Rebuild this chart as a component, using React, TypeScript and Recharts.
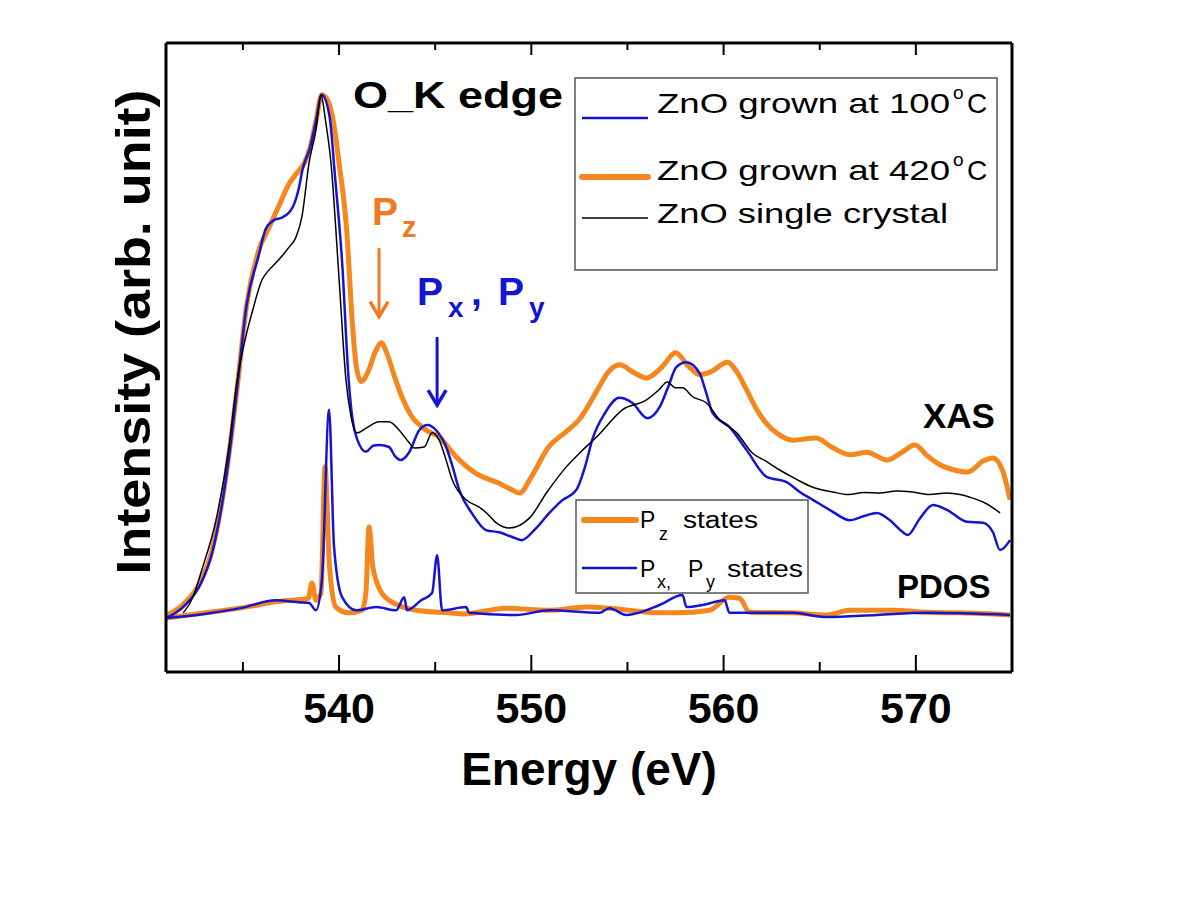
import React from "react";
import { LineChart, Line, XAxis, YAxis, ReferenceLine } from "recharts";

// energy (eV) and normalised intensity
const xasGrown420 = [
  [531.0, 0.005], [532.0, 0.03], [532.8, 0.07], [533.4, 0.13], [533.9, 0.22], [534.3, 0.32],
  [534.7, 0.44], [535.2, 0.6], [535.8, 0.7], [536.4, 0.75], [536.9, 0.79], [537.4, 0.83],
  [537.8, 0.85], [538.2, 0.87], [538.5, 0.9], [538.8, 0.95], [539.1, 1.0], [539.4, 0.99],
  [539.7, 0.95], [540.0, 0.87], [540.4, 0.74], [540.7, 0.56], [540.9, 0.48], [541.15, 0.452],
  [541.5, 0.47], [541.9, 0.51], [542.2, 0.526], [542.5, 0.505], [542.9, 0.46], [543.3, 0.42],
  [543.7, 0.39], [544.5, 0.36], [545.2, 0.346], [546.1, 0.308], [547.1, 0.277], [548.3, 0.258],
  [549.0, 0.245], [549.4, 0.239], [550.0, 0.27], [550.9, 0.327], [551.8, 0.356], [552.5, 0.38],
  [553.5, 0.44], [554.0, 0.47], [554.6, 0.484], [555.3, 0.47], [556.0, 0.459], [556.8, 0.48],
  [557.5, 0.507], [558.2, 0.48], [558.75, 0.465], [559.3, 0.47], [560.2, 0.489], [560.7, 0.47],
  [561.2, 0.436], [561.7, 0.4], [562.2, 0.373], [562.9, 0.35], [563.6, 0.34], [564.8, 0.344],
  [565.7, 0.325], [566.6, 0.312], [567.45, 0.317], [568.5, 0.302], [569.2, 0.315], [569.95, 0.331],
  [570.6, 0.31], [571.25, 0.293], [572.0, 0.283], [572.7, 0.279], [573.5, 0.3], [574.0, 0.306],
  [574.5, 0.283], [574.9, 0.226],
];

const xasGrown100 = [
  [531.0, 0.0], [532.0, 0.025], [532.8, 0.065], [533.4, 0.125], [533.9, 0.215], [534.3, 0.315],
  [534.7, 0.44], [535.2, 0.6], [535.8, 0.69], [536.2, 0.745], [536.6, 0.76], [537.0, 0.765],
  [537.4, 0.775], [537.6, 0.786], [537.9, 0.82], [538.1, 0.857], [538.5, 0.9], [538.8, 0.95],
  [539.1, 1.0], [539.5, 0.96], [539.8, 0.84], [540.16, 0.68], [540.5, 0.455], [540.7, 0.38],
  [540.94, 0.342], [541.4, 0.318], [541.8, 0.33], [542.1, 0.331], [542.6, 0.327], [542.9, 0.31],
  [543.2, 0.302], [543.65, 0.317], [544.17, 0.359], [544.6, 0.369], [545.05, 0.359], [545.57, 0.327],
  [545.9, 0.29], [546.25, 0.245], [546.9, 0.201], [547.66, 0.168], [548.33, 0.164], [549.0, 0.155],
  [549.5, 0.149], [550.2, 0.17], [550.94, 0.201], [551.6, 0.225], [552.34, 0.245], [552.8, 0.29],
  [553.18, 0.342], [553.8, 0.39], [554.58, 0.421], [555.26, 0.411], [556.04, 0.382], [556.67, 0.403],
  [557.1, 0.44], [557.55, 0.48], [558.07, 0.489], [558.75, 0.468], [559.1, 0.43], [559.43, 0.392],
  [560.31, 0.365], [561.2, 0.321], [562.24, 0.27], [563.28, 0.26], [564.0, 0.24], [564.64, 0.226],
  [565.6, 0.205], [566.56, 0.187], [567.3, 0.195], [567.97, 0.201], [568.65, 0.187], [569.2, 0.168],
  [569.58, 0.159], [570.2, 0.19], [570.89, 0.216], [571.61, 0.207], [572.66, 0.184], [573.49, 0.182],
  [574.01, 0.164], [574.38, 0.13], [574.9, 0.149],
];

const xasCrystal = [
  [531.9, 0.01], [532.4, 0.04], [532.86, 0.092], [533.6, 0.187], [534.27, 0.327], [534.7, 0.455],
  [535.1, 0.53], [535.47, 0.583], [535.99, 0.646], [536.35, 0.665], [536.72, 0.679], [537.1, 0.695],
  [537.4, 0.709], [537.76, 0.728], [538.07, 0.767], [538.44, 0.87], [538.8, 0.933], [539.06, 1.0],
  [539.3, 0.95], [539.58, 0.87], [540.0, 0.649], [540.36, 0.455], [540.6, 0.39], [540.94, 0.354],
  [541.41, 0.363], [542.08, 0.375], [542.6, 0.375], [543.13, 0.359], [543.65, 0.335], [543.91, 0.325],
  [544.43, 0.327], [544.84, 0.354], [545.21, 0.34], [545.5, 0.31], [545.89, 0.264], [546.61, 0.226],
  [547.29, 0.212], [547.7, 0.2], [548.18, 0.182], [548.85, 0.172], [549.9, 0.191], [550.8, 0.24],
  [551.82, 0.289], [552.5, 0.315], [553.5, 0.35], [554.74, 0.398], [555.99, 0.417], [556.6, 0.435],
  [557.08, 0.451], [557.5, 0.44], [557.86, 0.44], [558.39, 0.423], [559.11, 0.411], [559.79, 0.379],
  [560.68, 0.354], [561.51, 0.315], [562.2, 0.3], [562.92, 0.283], [563.8, 0.265], [564.64, 0.25],
  [565.68, 0.241], [566.5, 0.236], [567.3, 0.24], [568.13, 0.239], [569.0, 0.243], [569.84, 0.241],
  [570.7, 0.236], [571.61, 0.239], [572.3, 0.236], [572.81, 0.231], [573.6, 0.22], [574.38, 0.201],
];

const pdosPz = [
  [531.0, 0.0], [533.0, 0.01], [535.0, 0.02], [536.7, 0.031], [538.4, 0.038], [538.59, 0.067],
  [538.8, 0.034], [539.06, 0.048], [539.27, 0.289], [539.5, 0.1], [539.84, 0.021], [540.5, 0.01],
  [541.2, 0.015], [541.4, 0.05], [541.56, 0.174], [541.75, 0.1], [541.93, 0.072], [542.6, 0.034],
  [544.0, 0.015], [545.7, 0.01], [546.5, 0.008], [548.7, 0.019], [550.9, 0.015], [552.86, 0.021],
  [554.06, 0.019], [556.67, 0.01], [557.55, 0.01], [559.27, 0.015], [560.31, 0.04], [560.83, 0.038],
  [561.35, 0.011], [563.59, 0.01], [565.36, 0.006], [566.56, 0.015], [568.8, 0.015], [570.57, 0.011],
  [572.29, 0.01], [574.9, 0.006],
];

const pdosPxPy = [
  [531.0, 0.0], [533.0, 0.008], [535.0, 0.02], [536.7, 0.034], [538.0, 0.03], [538.44, 0.029],
  [538.8, 0.015], [539.11, 0.073], [539.48, 0.398], [539.74, 0.136], [540.16, 0.04], [540.89, 0.015],
  [541.93, 0.021], [542.97, 0.015], [543.39, 0.04], [543.54, 0.015], [544.27, 0.034], [544.84, 0.048],
  [545.1, 0.12], [545.36, 0.015], [546.61, 0.021], [546.77, 0.01], [549.22, 0.006], [550.94, 0.015],
  [553.54, 0.01], [554.06, 0.019], [554.95, 0.006], [556.67, 0.025], [557.86, 0.044], [558.07, 0.021],
  [558.91, 0.025], [560.05, 0.034], [560.31, 0.01], [561.88, 0.01], [563.59, 0.01], [565.36, 0.002],
  [567.97, 0.006], [570.57, 0.01], [574.9, 0.006],
];

const energyTicks = [535, 540, 545, 550, 555, 560, 565, 570];
const xDomain = [531, 575];
const yDomain = [-0.103, 1.099];

// arrows: energy, start intensity, end intensity
const arrowPz = [542.08, 0.707, 0.576];
const arrowPxPy = [545.1, 0.537, 0.407];

const toPoints = (rows: number[][]) => rows.map(([e, v]) => ({ e, v }));

const ORANGE = "#F5871F";
const BLUE = "#1414D2";
const FONT = "'Liberation Sans', Arial, sans-serif";

const BottomTick = (props: any) => {
  const { x, y, payload } = props;
  const major = payload.value % 10 === 0;
  return (
    <g>
      <line x1={x} x2={x} y1={y} y2={y - (major ? 17 : 10)} stroke="#000" strokeWidth={2} />
      {major && (
        <text x={x} y={y + 51} textAnchor="middle" fontSize={43} fontWeight="bold" fontFamily={FONT} fill="#000">
          {payload.value}
        </text>
      )}
    </g>
  );
};

const TopTick = (props: any) => {
  const { x, y, payload } = props;
  const major = payload.value % 10 === 0;
  return <line x1={x} x2={x} y1={y} y2={y + (major ? 12 : 7)} stroke="#000" strokeWidth={2} />;
};

const arrowShape = (color: string) => (p: any) => {
  const { x1, y1, x2, y2 } = p;
  return (
    <g>
      <line x1={x1} y1={y1} x2={x2} y2={y2} stroke={color} strokeWidth={3} />
      <polyline
        points={`${x2 - 9},${y2 - 15} ${x2},${y2} ${x2 + 9},${y2 - 15}`}
        fill="none" stroke={color} strokeWidth={3.5} strokeLinejoin="miter"
      />
    </g>
  );
};

export default function App() {
  const txt = { fontFamily: FONT, fill: "#000" };
  return (
    <div style={{ position: "absolute", left: 0, top: 0, width: 1200, height: 897, background: "#fff" }}>
      <LineChart width={1200} height={897} margin={{ top: 13, right: 158, bottom: 0, left: 136 }}>
        <XAxis
          xAxisId="b" dataKey="e" type="number" domain={xDomain} ticks={energyTicks} allowDataOverflow
          height={225} tickSize={0} tickMargin={0} tickLine={false}
          axisLine={{ stroke: "#000", strokeWidth: 3 }} tick={<BottomTick />} interval={0}
        />
        <XAxis
          xAxisId="t" orientation="top" dataKey="e" type="number" domain={xDomain} ticks={energyTicks}
          allowDataOverflow height={30} tickSize={0} tickMargin={0} tickLine={false}
          axisLine={{ stroke: "#000", strokeWidth: 3 }} tick={<TopTick />} interval={0}
        />
        <YAxis yAxisId="l" type="number" domain={yDomain} allowDataOverflow width={30} tick={false}
          tickLine={false} axisLine={{ stroke: "#000", strokeWidth: 3 }} />
        <YAxis yAxisId="r" orientation="right" type="number" domain={yDomain} allowDataOverflow width={30}
          tick={false} tickLine={false} axisLine={{ stroke: "#000", strokeWidth: 3 }} />

        <Line xAxisId="b" yAxisId="l" data={toPoints(xasGrown420)} dataKey="v" type="monotone" stroke={ORANGE}
          strokeWidth={5} dot={false} activeDot={false} isAnimationActive={false} strokeLinejoin="round" />
        <Line xAxisId="b" yAxisId="l" data={toPoints(pdosPz)} dataKey="v" type="monotone" stroke={ORANGE}
          strokeWidth={5} dot={false} activeDot={false} isAnimationActive={false} strokeLinejoin="round" />
        <Line xAxisId="b" yAxisId="l" data={toPoints(xasGrown100)} dataKey="v" type="monotone" stroke={BLUE}
          strokeWidth={2.5} dot={false} activeDot={false} isAnimationActive={false} />
        <Line xAxisId="b" yAxisId="l" data={toPoints(pdosPxPy)} dataKey="v" type="monotone" stroke={BLUE}
          strokeWidth={2.5} dot={false} activeDot={false} isAnimationActive={false} />
        <Line xAxisId="b" yAxisId="l" data={toPoints(xasCrystal)} dataKey="v" type="monotone" stroke="#000"
          strokeWidth={1.5} dot={false} activeDot={false} isAnimationActive={false} />

        <ReferenceLine xAxisId="b" yAxisId="l" ifOverflow="visible"
          segment={[{ x: arrowPz[0], y: arrowPz[1] }, { x: arrowPz[0], y: arrowPz[2] }]}
          shape={arrowShape("#F07A22")} />
        <ReferenceLine xAxisId="b" yAxisId="l" ifOverflow="visible"
          segment={[{ x: arrowPxPy[0], y: arrowPxPy[1] }, { x: arrowPxPy[0], y: arrowPxPy[2] }]}
          shape={arrowShape(BLUE)} />
      </LineChart>

      <svg width={1200} height={897} style={{ position: "absolute", left: 0, top: 0, pointerEvents: "none" }}>
        {/* axis titles */}
        <text {...txt} x={589} y={785} textAnchor="middle" fontSize={46} fontWeight="bold">Energy (eV)</text>
        <text {...txt} transform="translate(150,332) rotate(-90)" textAnchor="middle" fontSize={48}
          fontWeight="bold" textLength={485} lengthAdjust="spacingAndGlyphs">Intensity (arb. unit)</text>

        <text {...txt} x={353} y={108} fontSize={37} fontWeight="bold" textLength={210}
          lengthAdjust="spacingAndGlyphs">O_K edge</text>
        <text {...txt} x={923} y={428} fontSize={35} fontWeight="bold">XAS</text>
        <text {...txt} x={897} y={598} fontSize={33} fontWeight="bold">PDOS</text>

        {/* P_z and P_x, P_y annotations */}
        <text x={372} y={225} fontSize={39} fontWeight="bold" fontFamily={FONT} fill="#F07A22">P</text>
        <text x={402} y={237} fontSize={29} fontWeight="bold" fontFamily={FONT} fill="#F07A22">z</text>
        <g fill={BLUE} fontFamily={FONT} fontWeight="bold">
          <text x={417} y={305} fontSize={39}>P</text>
          <text x={448} y={317} fontSize={28}>x</text>
          <text x={471} y={305} fontSize={39}>,</text>
          <text x={498} y={305} fontSize={39}>P</text>
          <text x={529} y={317} fontSize={28}>y</text>
        </g>

        {/* sample legend */}
        <rect x={575} y={78} width={422} height={192} fill="none" stroke="#555" strokeWidth={1.5} />
        <line x1={582} x2={648} y1={118} y2={118} stroke={BLUE} strokeWidth={2.5} />
        <line x1={582} x2={648} y1={177} y2={177} stroke={ORANGE} strokeWidth={6} strokeLinecap="round" />
        <line x1={582} x2={648} y1={218} y2={218} stroke="#000" strokeWidth={1.5} />
        <text {...txt} x={657} y={113} fontSize={28} textLength={293} lengthAdjust="spacingAndGlyphs">ZnO grown at 100</text>
        <text {...txt} x={953} y={99} fontSize={19}>o</text>
        <text {...txt} x={967} y={113} fontSize={28}>C</text>
        <text {...txt} x={657} y={180} fontSize={28} textLength={293} lengthAdjust="spacingAndGlyphs">ZnO grown at 420</text>
        <text {...txt} x={953} y={166} fontSize={19}>o</text>
        <text {...txt} x={967} y={180} fontSize={28}>C</text>
        <text {...txt} x={657} y={223} fontSize={28} textLength={291} lengthAdjust="spacingAndGlyphs">ZnO single crystal</text>

        {/* PDOS legend */}
        <rect x={576} y={500} width={232} height={93} fill="none" stroke="#555" strokeWidth={1.5} />
        <line x1={584} x2={636} y1={520} y2={520} stroke={ORANGE} strokeWidth={6} strokeLinecap="round" />
        <line x1={582} x2={637} y1={568} y2={568} stroke={BLUE} strokeWidth={2.5} />
        <text {...txt} x={640} y={528} fontSize={23}>P</text>
        <text {...txt} x={659} y={540} fontSize={18}>z</text>
        <text {...txt} x={683} y={528} fontSize={23} textLength={75} lengthAdjust="spacingAndGlyphs">states</text>
        <text {...txt} x={640} y={577} fontSize={23}>P</text>
        <text {...txt} x={657} y={588} fontSize={18}>x,</text>
        <text {...txt} x={688} y={577} fontSize={23}>P</text>
        <text {...txt} x={706} y={588} fontSize={18}>y</text>
        <text {...txt} x={727} y={577} fontSize={23} textLength={76} lengthAdjust="spacingAndGlyphs">states</text>
      </svg>
    </div>
  );
}
